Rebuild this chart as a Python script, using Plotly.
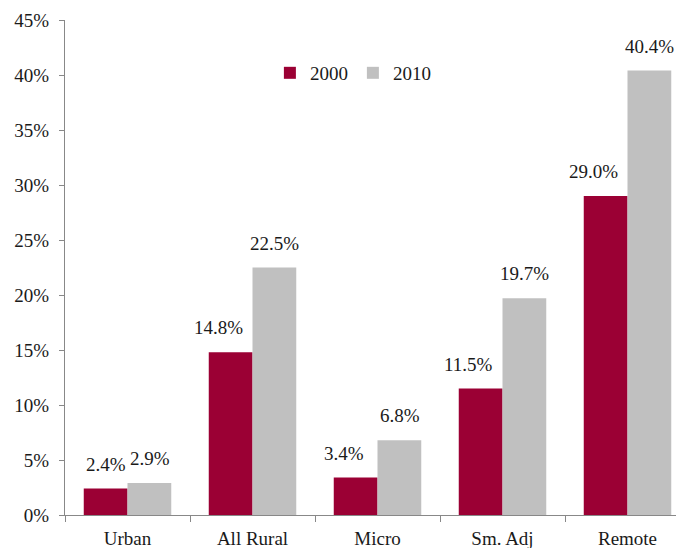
import plotly.graph_objects as go

categories = ["Urban", "All Rural", "Micro", "Sm. Adj", "Remote"]
values_2000 = [2.4, 14.8, 3.4, 11.5, 29.0]
values_2010 = [2.9, 22.5, 6.8, 19.7, 40.4]
series_names = ["2000", "2010"]
colors = ["#9B0034", "#C0C0C0"]
tick_vals = [0, 5, 10, 15, 20, 25, 30, 35, 40, 45]
tick_text = [f"{v}%" for v in tick_vals]

FONT = "Liberation Serif"
TXT = "#1a1a1a"
FS = 19

fig = go.Figure()
for name, vals, col in zip(series_names, [values_2000, values_2010], colors):
    fig.add_trace(go.Bar(name=name, x=categories, y=vals, marker=dict(color=col, line=dict(width=0)),
                         hoverinfo="skip"))

annotations = []
for i, c in enumerate(categories):
    v0, v1 = values_2000[i], values_2010[i]
    # 2000 label nudged left when the neighbouring 2010 bar is in the way (as in the original)
    shift0 = -34 if v1 > v0 + 3 else -22
    for v, sh in [(v0, shift0), (v1, 22)]:
        annotations.append(dict(x=c, y=v, text=f"{v:.1f}%", showarrow=False, xref="x", yref="y",
                                xshift=sh, yshift=12, yanchor="bottom",
                                font=dict(family=FONT, size=FS, color=TXT)))

fig.update_layout(
    width=676, height=540,
    margin=dict(l=57, r=0, t=12, b=33, autoexpand=False),
    paper_bgcolor="white", plot_bgcolor="white",
    barmode="group", bargap=0.3, bargroupgap=0,
    font=dict(family=FONT, size=FS, color=TXT),
    showlegend=True,
    legend=dict(orientation="h", x=0.331, y=0.893, xanchor="left", yanchor="middle",
                font=dict(family=FONT, size=FS, color=TXT), itemwidth=30,
                traceorder="normal", bgcolor="rgba(0,0,0,0)"),
    annotations=annotations,
    xaxis=dict(range=[-0.5, 4.452], showline=True, linecolor="#888", linewidth=1,
               ticks="outside", tickson="boundaries", ticklen=6, tickcolor="#888",
               ticklabelstandoff=6,
               showgrid=False, tickfont=dict(family=FONT, size=FS, color=TXT)),
    yaxis=dict(range=[0, 45], tickvals=tick_vals, ticktext=tick_text, showline=True,
               linecolor="#888", linewidth=1, ticks="outside", ticklen=5, tickcolor="#888",
               ticklabelstandoff=6,
               showgrid=False, zeroline=False, tickfont=dict(family=FONT, size=FS, color=TXT)),
)

fig.write_html("out.html")
